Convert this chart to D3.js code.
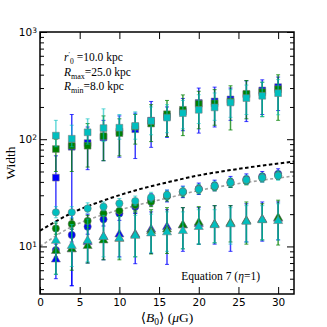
<!DOCTYPE html>
<html><head><meta charset="utf-8">
<script src="https://cdn.jsdelivr.net/npm/d3@7"></script>
<style>body{margin:0;background:#fff}svg{display:block}</style>
</head><body>
<svg id="c" width="327" height="327"></svg>
<script>
// ---- data ----
const xVals = [2,4,6,8,10,12,14,16,18,20,22,24,26,28,30];
const xTicks = [0,5,10,15,20,25,30];
const yMajor = [10,100,1000];
const yMinor = [4,5,6,7,8,9,20,30,40,50,60,70,80,90,200,300,400,500,600,700,800,900];

// squares
const sqBlue   = [43.8,85,92,104,118,124,149,163,181,218,225,235,262,285,306];
const sqBlueLo = [22,4.3,52,63,68,66,84,104,120,114,130,150,146,170,185];
const sqBlueHi = [70,170,130,150,165,175,225,200,240,300,306,300,350,358,380];
const sqGreen   = [81,87,87,107,114,131,140,171,188,214,216,225,265,275,293];
const sqGreenLo = [50,50,55,63,70,90,95,106,108,125,135,122,155,162,150];
const sqGreenHi = [100,100,140,165,155,170,210,230,259,280,290,315,353,340,399];
const sqCyan   = [108,101,116,127,128,133,148,159,175,188,198,220,242,254,269];
const sqCyanLo = [85,85,90,95,100,100,110,115,125,140,150,160,170,163,169];
const sqCyanHi = [150,135,155,192,170,180,200,210,230,260,270,290,320,340,360];

// circles
const ciBlue   = [9.25,12.8,15.3,17.9,20.3,23.5,27.5,29.5,32.5,34.5,37,40,42.5,45,47.5];
const ciBlueLo = [8,11,13,15.5,17.5,20.5,24,26,28.5,30.5,33,35.5,38,40,42.5];
const ciBlueHi = [10.5,14.5,17.5,20.5,23.5,27,31,33.5,36.5,39,41.5,45,47.5,50,53];
const ciGreen   = [14.7,16.2,17.3,20.3,21.5,24.3,26.1,29.5,32,34.1,36,39,41,43.8,46];
const ciGreenLo = [13,14.5,15,18,19,21.5,23.5,26.5,29,31,33,35.5,37.5,40,42];
const ciGreenHi = [16.5,18,19.5,22.5,24,27,29,32.5,35,37.5,39.5,43,45,48,50];
const ciCyan   = [20.8,20.8,22.6,23.5,25.2,26.5,28.7,30.2,32.4,34.1,36.6,39.4,41.7,43.8,45.7];
const ciCyanLo = [18.5,18.5,20.5,21.5,23,24,26,27.5,29.5,31,33.5,36,38,40,41.5];
const ciCyanHi = [23.5,23.5,25.5,26,28,29.5,32,33.5,36,38,40.5,43.5,46,48,50.5];

// triangles
const trBlue   = [7.7,9.6,11.2,12.5,13.2,13.2,14.7,15.5,16.0,16.5,16.3,16.6,17.5,18.2,18.5];
const trBlueLo = [5.0,4.3,7.0,7.5,8.0,6.9,8.6,6.8,9.0,10.5,10.5,9.0,11.0,11.2,11.5];
const trBlueHi = [14,20,20,20.5,21,20.3,21,22,23,23,24,24,25,26,26];
const trGreen   = [9.25,9.6,10.3,11.6,12.0,13.0,14.2,14.7,16.1,17.0,16.3,16.8,17.6,18.0,18.8];
const trGreenLo = [5.5,6.0,7.0,7.5,7.5,8.0,8.5,8.6,9.5,10.5,10.8,11,10.5,11.5,10.3];
const trGreenHi = [14,17,18,20,20.5,21,22,23,23,23.5,24,24,26,25,27];
const trCyan   = [11.5,10.3,11.5,12.5,12.1,12.8,13.5,13.8,14.2,15.5,16.1,16.4,17.3,17.9,17.6];
const trCyanLo = [5.5,6.5,7.2,8.0,7.8,8.0,8.8,9.0,9.5,10.5,10.8,10.5,11.0,11.5,11.5];
const trCyanHi = [17,16,18,19.5,19,19.5,20,21,21,22,22,23,24,24,25];

// reference curves
const curveX     = [0,4,8,12,16,20,24,28,32];
const blackCurve = [14,20.5,26.8,33.3,39.5,46,51.5,56.8,62];
const grayCurve  = [10,15.3,19.8,24,28.2,33.3,37.5,41.5,45.4];

// ---- drawing ----
const W=327,H=327, m={l:40,r:33,t:32,b:33};
const svg=d3.select('#c');
const x=d3.scaleLinear().domain([0,32]).range([m.l,W-m.r]);
const y=d3.scaleLog().domain([3.6,1000]).range([H-m.b,m.t]);

const defs=svg.append('defs');
defs.append('clipPath').attr('id','clip').append('rect')
  .attr('x',m.l).attr('y',m.t).attr('width',W-m.l-m.r).attr('height',H-m.t-m.b);
const plot=svg.append('g').attr('clip-path','url(#clip)');

// curves
const line=d3.line().x((d,i)=>x(curveX[i])).y(d=>y(d)).curve(d3.curveMonotoneX);
plot.append('path').datum(grayCurve).attr('d',line).attr('fill','none')
  .attr('stroke','#a0a0a0').attr('stroke-width',1.6).attr('stroke-dasharray','3,2.5');
plot.append('path').datum(blackCurve).attr('d',line).attr('fill','none')
  .attr('stroke','#000').attr('stroke-width',2).attr('stroke-dasharray','3.5,2.5');

const colours={blue:'#0000ff',green:'#008000',cyan:'#00bfbf'};
const groups=[
  ['blue',[[sqBlue,sqBlueLo,sqBlueHi,'sq'],[ciBlue,ciBlueLo,ciBlueHi,'ci'],[trBlue,trBlueLo,trBlueHi,'tr']]],
  ['green',[[sqGreen,sqGreenLo,sqGreenHi,'sq'],[ciGreen,ciGreenLo,ciGreenHi,'ci'],[trGreen,trGreenLo,trGreenHi,'tr']]],
  ['cyan',[[sqCyan,sqCyanLo,sqCyanHi,'sq'],[ciCyan,ciCyanLo,ciCyanHi,'ci'],[trCyan,trCyanLo,trCyanHi,'tr']]]
];
const symSq=d3.symbol().type(d3.symbolSquare).size(46);
const symCi=d3.symbol().type(d3.symbolCircle).size(42);
const symTr=d3.symbol().type(d3.symbolTriangle).size(36);
groups.forEach(([cname,sets])=>{
  const col=colours[cname];
  const g=plot.append('g');
  sets.forEach(([v,lo,hi,shape])=>{
    const eb=g.append('g').attr('stroke',col).attr('stroke-opacity',cname==='cyan'?0.6:0.75);
    xVals.forEach((xv,i)=>{
      const cx=x(xv);
      eb.append('line').attr('x1',cx).attr('x2',cx).attr('y1',y(lo[i])).attr('y2',y(hi[i])).attr('stroke-width',1.5);
      eb.append('line').attr('x1',cx-2).attr('x2',cx+2).attr('y1',y(lo[i])).attr('y2',y(lo[i])).attr('stroke-width',1);
      eb.append('line').attr('x1',cx-2).attr('x2',cx+2).attr('y1',y(hi[i])).attr('y2',y(hi[i])).attr('stroke-width',1);
    });
  });
  sets.forEach(([v,lo,hi,shape])=>{
    const sym= shape==='sq'?symSq:shape==='ci'?symCi:symTr;
    g.selectAll(null).data(v).enter().append('path')
      .attr('d',sym)
      .attr('transform',(d,i)=>`translate(${x(xVals[i])},${y(d)+(shape==='tr'?0.8:0)})`)
      .attr('fill',col).attr('stroke','#777').attr('stroke-opacity',0.6).attr('stroke-width',0.9);
  });
});

// axes
const tickFont='"DejaVu Sans", sans-serif';
const axB=svg.append('g').attr('transform',`translate(0,${H-m.b})`)
  .call(d3.axisBottom(x).tickValues(xTicks).tickSize(-7).tickPadding(5).tickFormat(d3.format('d')));
const axT=svg.append('g').attr('transform',`translate(0,${m.t})`)
  .call(d3.axisTop(x).tickValues(xTicks).tickSize(-7).tickFormat(''));
const axL=svg.append('g').attr('transform',`translate(${m.l},0)`)
  .call(d3.axisLeft(y).tickValues(yMajor).tickSize(-7).tickPadding(4).tickFormat(''));
const axLm=svg.append('g').attr('transform',`translate(${m.l},0)`)
  .call(d3.axisLeft(y).tickValues(yMinor).tickSize(-4).tickFormat(''));
const axR=svg.append('g').attr('transform',`translate(${W-m.r},0)`)
  .call(d3.axisRight(y).tickValues(yMajor).tickSize(-7).tickFormat(''));
const axRm=svg.append('g').attr('transform',`translate(${W-m.r},0)`)
  .call(d3.axisRight(y).tickValues(yMinor).tickSize(-4).tickFormat(''));
[axB,axT,axL,axLm,axR,axRm].forEach(a=>{
  a.select('.domain').remove();
  a.selectAll('.tick line').attr('stroke','#000').attr('stroke-width',1);
  a.selectAll('text').attr('font-family',tickFont).attr('font-size',10.5).attr('fill','#000');
});
// y tick labels 10^n
axL.selectAll('.tick').each(function(d){
  const t=d3.select(this).select('text').text(null);
  t.attr('font-size',10.5).attr('x',-3);
  t.append('tspan').text('10');
  t.append('tspan').attr('dy','-0.45em').attr('font-size',7.5).text(Math.round(Math.log10(d)));
});

svg.append('rect').attr('x',m.l).attr('y',m.t).attr('width',W-m.l-m.r).attr('height',H-m.t-m.b)
  .attr('fill','none').attr('stroke','#000').attr('stroke-width',1.5);

// labels
const serif='"Liberation Serif","DejaVu Serif",serif';
const xl=svg.append('text').attr('x',(m.l+W-m.r)/2).attr('y',322).attr('text-anchor','middle')
  .attr('font-family',serif).attr('font-size',13.5);
xl.append('tspan').text('\u27E8');
xl.append('tspan').attr('font-style','italic').text('B');
xl.append('tspan').attr('font-size',9.5).attr('dy','3').text('0');
xl.append('tspan').attr('dy','-3').text('\u27E9 (');
xl.append('tspan').attr('font-style','italic').text('\u03BC');
xl.append('tspan').text('G)');

svg.append('text').attr('transform',`translate(15,${(m.t+H-m.b)/2}) rotate(-90)`)
  .attr('text-anchor','middle').attr('font-family',serif).attr('font-size',13.5).text('Width');

const ann=svg.append('g').attr('font-family',serif).attr('font-size',11.5).attr('fill','#000');
const a1=ann.append('text').attr('x',64).attr('y',61);
a1.append('tspan').attr('font-style','italic').text('r');
a1.append('tspan').attr('dy','-5').attr('font-size',7).text('\u2032');
a1.append('tspan').attr('dy','8').attr('font-size',7.5).text('0');
a1.append('tspan').attr('dy','-3').text(' =10.0 kpc');
const a2=ann.append('text').attr('x',64).attr('y',76);
a2.append('tspan').attr('font-style','italic').text('R');
a2.append('tspan').attr('dy','3').attr('font-size',8).text('max');
a2.append('tspan').attr('dy','-3').text('=25.0 kpc');
const a3=ann.append('text').attr('x',64).attr('y',90);
a3.append('tspan').attr('font-style','italic').text('R');
a3.append('tspan').attr('dy','3').attr('font-size',8).text('min');
a3.append('tspan').attr('dy','-3').text('=8.0 kpc');

const eq=ann.append('text').attr('x',260).attr('y',280).attr('text-anchor','end');
eq.append('tspan').text('Equation 7 (');
eq.append('tspan').attr('font-style','italic').text('\u03B7');
eq.append('tspan').text('=1)');
</script>
</body></html>
